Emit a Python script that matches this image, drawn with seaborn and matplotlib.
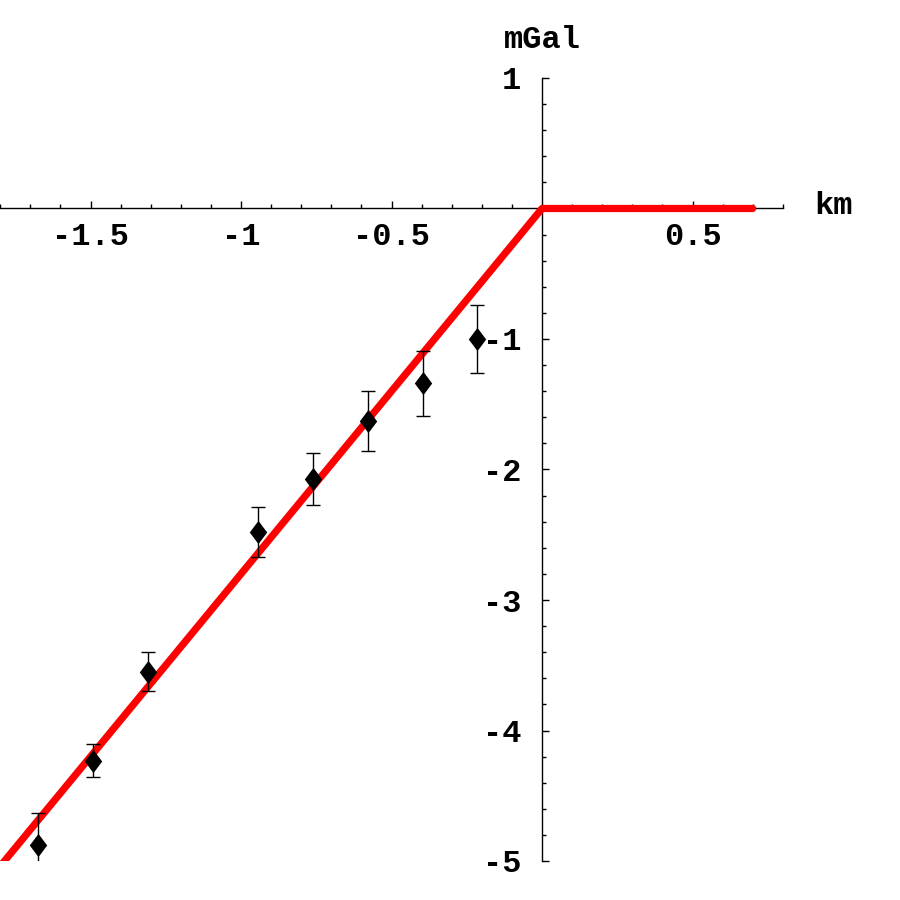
import numpy as np
import pandas as pd
import matplotlib
matplotlib.use("Agg")
import matplotlib.pyplot as plt
import seaborn as sns
from matplotlib.patches import Rectangle
from matplotlib.ticker import FixedLocator

# ---- data ----
dist_km = [-1.673, -1.492, -1.310, -0.945, -0.761, -0.577, -0.395, -0.215]
anom_mgal = [-4.88, -4.23, -3.55, -2.48, -2.07, -1.63, -1.34, -1.00]
anom_err = [0.25, 0.13, 0.15, 0.19, 0.20, 0.23, 0.25, 0.26]

model_x = [-1.8, 0.0, 0.7]
model_y = [-5.04, 0.0, 0.0]

x_major = [-1.5, -1.0, -0.5, 0.5]
x_major_labels = ["-1.5", "-1", "-0.5", "0.5"]
y_major = [1, -1, -2, -3, -4, -5]
y_major_labels = ["1", "-1", "-2", "-3", "-4", "-5"]

sns.set_style("white")
plt.rcParams["axes.unicode_minus"] = False
plt.rcParams["font.family"] = ["Liberation Mono", "DejaVu Sans Mono"]

fig = plt.figure(figsize=(9, 9), dpi=100)
ax = fig.add_axes([0, 0, 1, 1])
ax.set_xlim(-542 / 301, (900 - 542) / 301)
ax.set_ylim((208.5 - 900) / 130.5, 208.5 / 130.5)

clip = Rectangle((-1.8, -5.0), 2.6, 6.0, transform=ax.transData)

df_model = pd.DataFrame({"x": model_x, "y": model_y})
sns.lineplot(data=df_model, x="x", y="y", ax=ax, color="#ff0000", linewidth=5.2,
             sort=False, solid_capstyle="round", solid_joinstyle="round", zorder=3)

ax.errorbar(dist_km, anom_mgal, yerr=anom_err, fmt="none", ecolor="black",
            elinewidth=1.0, capsize=5, capthick=1.0, zorder=3.5)

diamond = [(0, 1), (0.75, 0), (0, -1), (-0.75, 0), (0, 1)]
df_pts = pd.DataFrame({"x": dist_km, "y": anom_mgal})
sns.scatterplot(data=df_pts, x="x", y="y", ax=ax, marker=diamond, s=280,
                color="black", edgecolor="black", linewidth=0, zorder=4)

for art in list(ax.lines) + list(ax.collections):
    art.set_clip_path(clip)

# axes through origin
for side in ["top", "right"]:
    ax.spines[side].set_visible(False)
ax.spines["left"].set_position(("data", 0))
ax.spines["bottom"].set_position(("data", 0))
ax.spines["left"].set_bounds(-5, 1)
ax.spines["bottom"].set_bounds(-1.8, 0.8)
for side in ["left", "bottom"]:
    ax.spines[side].set_color("black")
    ax.spines[side].set_linewidth(1.0)
    ax.spines[side].set_zorder(2)

ax.xaxis.set_major_locator(FixedLocator(x_major))
ax.set_xticklabels(x_major_labels)
ax.xaxis.set_minor_locator(FixedLocator(np.round(np.arange(-1.8, 0.81, 0.1), 2)))
ax.yaxis.set_major_locator(FixedLocator(y_major))
ax.set_yticklabels(y_major_labels)
ax.yaxis.set_minor_locator(FixedLocator(np.round(np.arange(-5, 1.01, 0.2), 2)))

ax.tick_params(axis="both", which="both", bottom=True, left=True, top=False, right=False)
ax.tick_params(axis="both", which="major", direction="in", length=5, width=1,
               color="black", labelsize=23, labelcolor="black")
ax.tick_params(axis="both", which="minor", direction="in", length=3, width=1,
               color="black")
ax.tick_params(axis="x", which="major", pad=10)
ax.tick_params(axis="y", which="major", pad=15)
for lab in ax.get_xticklabels() + ax.get_yticklabels():
    lab.set_fontweight("bold")

ax.set_xlabel("")
ax.set_ylabel("")
ax.text(0.967, 0.02, "km", ha="center", va="center", fontsize=23,
        fontweight="bold", color="black")
ax.text(0.0, 1.29, "mGal", ha="center", va="center", fontsize=23,
        fontweight="bold", color="black")

ax.set_facecolor("white")
fig.patch.set_facecolor("white")
fig.savefig("out.png", dpi=100)
